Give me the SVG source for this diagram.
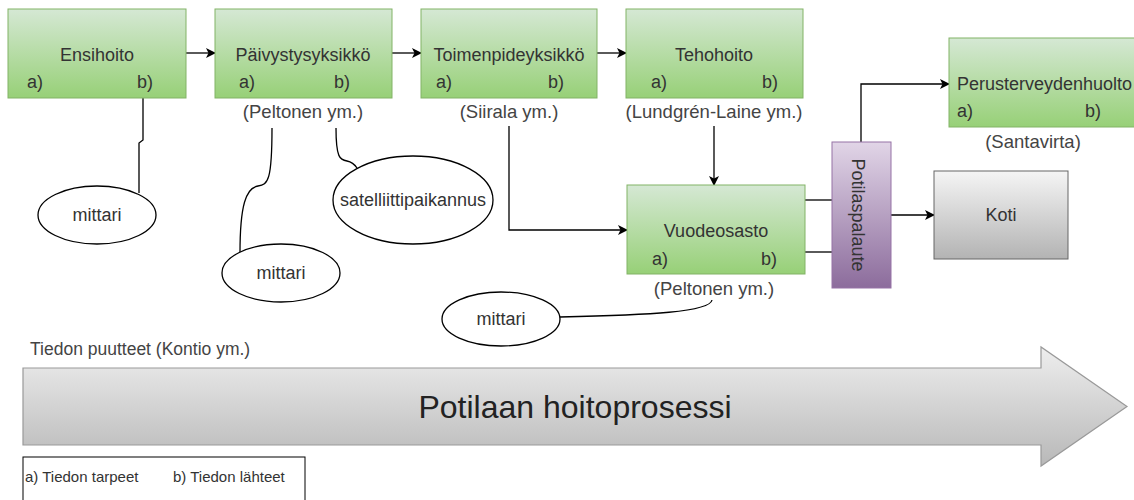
<svg xmlns="http://www.w3.org/2000/svg" width="1134" height="500" viewBox="0 0 1134 500">
<defs>
<linearGradient id="gGreen" x1="0" y1="0" x2="0" y2="1"><stop offset="0" stop-color="#d5e8d4"/><stop offset="1" stop-color="#97d077"/></linearGradient>
<linearGradient id="gPurple" x1="0" y1="0" x2="0" y2="1"><stop offset="0" stop-color="#e1d5e7"/><stop offset="1" stop-color="#8c6c9c"/></linearGradient>
<linearGradient id="gGray" x1="0" y1="0" x2="0" y2="1"><stop offset="0" stop-color="#f5f5f5"/><stop offset="1" stop-color="#b3b3b3"/></linearGradient>
<linearGradient id="gArrow" x1="0" y1="0" x2="0" y2="1"><stop offset="0" stop-color="#eeeeee"/><stop offset="1" stop-color="#b8b8b8"/></linearGradient>
<marker id="arr" markerWidth="10" markerHeight="10" refX="9" refY="5" orient="auto" markerUnits="userSpaceOnUse"><path d="M0,0 L10,5 L0,10 L2.5,5 Z" fill="#000"/></marker>
</defs>
<style>
.t{font-family:"Liberation Sans",Arial,sans-serif;font-size:18px;fill:#333}
.l{font-family:"Liberation Sans",Arial,sans-serif;font-size:18.5px;fill:#444}
.green{fill:url(#gGreen);stroke:#82b366;stroke-width:1}
.edge{fill:none;stroke:#000;stroke-width:1.3}
.ell{fill:#fff;stroke:#000;stroke-width:1.3}
</style>
<rect width="1134" height="500" fill="#fff"/>

<g id="connectors">
<path class="edge" d="M186,53 L215,53" marker-end="url(#arr)"/>
<path class="edge" d="M392,53 L421,53" marker-end="url(#arr)"/>
<path class="edge" d="M597,53 L626,53" marker-end="url(#arr)"/>
<path class="edge" d="M714,126 L714,185" marker-end="url(#arr)"/>
<path class="edge" d="M509,126 L509,230 L627,230" marker-end="url(#arr)"/>
<path class="edge" d="M805,200 L832,200"/>
<path class="edge" d="M805,252 L832,252"/>
<path class="edge" d="M861,142 L861,84 L949,84" marker-end="url(#arr)"/>
<path class="edge" d="M891,215 L934,215" marker-end="url(#arr)"/>
<path class="edge" d="M143,98 L143,140 L139,143 L139,193"/>
<path class="edge" d="M272,128 C272,180 268,185 258,186 C246,188 240,205 240,253"/>
<path class="edge" d="M336,128 C336,158 340,160 347,161 C352,162 355,165 357,168"/>
<path class="edge" d="M560,317 C650,315 710,312 712,300"/>
</g>

<g id="ensihoito">
<rect class="green" x="8" y="9" width="178" height="89"/>
<text class="t" x="97" y="61" text-anchor="middle">Ensihoito</text>
<text class="t" x="27" y="88">a)</text>
<text class="t" x="137" y="88">b)</text>
</g>
<g id="paivystys">
<rect class="green" x="215" y="9" width="177" height="89"/>
<text class="t" x="303" y="61" text-anchor="middle">Päivystysyksikkö</text>
<text class="t" x="239" y="88">a)</text>
<text class="t" x="334" y="88">b)</text>
<text class="l" x="303" y="118" text-anchor="middle">(Peltonen ym.)</text>
</g>
<g id="toimenpide">
<rect class="green" x="421" y="9" width="176" height="89"/>
<text class="t" x="509" y="61" text-anchor="middle">Toimenpideyksikkö</text>
<text class="t" x="436" y="88">a)</text>
<text class="t" x="548" y="88">b)</text>
<text class="l" x="509" y="118" text-anchor="middle">(Siirala ym.)</text>
</g>
<g id="tehohoito">
<rect class="green" x="626" y="9" width="177" height="89"/>
<text class="t" x="714" y="61" text-anchor="middle">Tehohoito</text>
<text class="t" x="651" y="88">a)</text>
<text class="t" x="762" y="88">b)</text>
<text class="l" x="714" y="118" text-anchor="middle">(Lundgrén-Laine ym.)</text>
</g>
<g id="vuodeosasto">
<rect class="green" x="627" y="185" width="178" height="89"/>
<text class="t" x="716" y="237" text-anchor="middle">Vuodeosasto</text>
<text class="t" x="652" y="265">a)</text>
<text class="t" x="761" y="265">b)</text>
<text class="l" x="714" y="295" text-anchor="middle">(Peltonen ym.)</text>
</g>
<g id="perusterveydenhuolto">
<rect class="green" x="949" y="38" width="190" height="89"/>
<text class="t" x="957" y="90">Perusterveydenhuolto</text>
<text class="t" x="957" y="117">a)</text>
<text class="t" x="1085" y="117">b)</text>
<text class="l" x="1033" y="148" text-anchor="middle">(Santavirta)</text>
</g>
<g id="potilaspalaute">
<rect x="832" y="142" width="59" height="146" fill="url(#gPurple)" stroke="#9673a6"/>
<text class="t" transform="translate(852,215) rotate(90)" text-anchor="middle">Potilaspalaute</text>
</g>
<g id="koti">
<rect x="934" y="171" width="134" height="88" fill="url(#gGray)" stroke="#666"/>
<text class="t" x="1001" y="221" text-anchor="middle">Koti</text>
</g>
<g id="mittari1">
<ellipse class="ell" cx="97" cy="215" rx="59" ry="29"/>
<text class="t" x="97" y="221" text-anchor="middle">mittari</text>
</g>
<g id="mittari2">
<ellipse class="ell" cx="281" cy="273" rx="59" ry="29"/>
<text class="t" x="281" y="279" text-anchor="middle">mittari</text>
</g>
<g id="satelliitti">
<ellipse class="ell" cx="413" cy="200" rx="80" ry="44"/>
<text class="t" x="413" y="206" text-anchor="middle">satelliittipaikannus</text>
</g>
<g id="mittari3">
<ellipse class="ell" cx="501" cy="319" rx="59" ry="27"/>
<text class="t" x="501" y="325" text-anchor="middle">mittari</text>
</g>

<g id="prosessi">
<text class="l" x="30" y="355" style="font-size:17.5px">Tiedon puutteet (Kontio ym.)</text>
<path d="M23,368 L1041,368 L1041,347 L1127,406.5 L1041,466 L1041,445 L23,445 Z" fill="url(#gArrow)" stroke="#999" stroke-width="1.2"/>
<text x="575" y="418" text-anchor="middle" style="font-family:'Liberation Sans',Arial,sans-serif;font-size:32px;fill:#222">Potilaan hoitoprosessi</text>
</g>
<g id="legend">
<rect x="23" y="457" width="282" height="60" fill="#fff" stroke="#000" stroke-width="1"/>
<text x="25" y="482" style="font-family:'Liberation Sans',Arial,sans-serif;font-size:15px;fill:#333">a) Tiedon tarpeet</text>
<text x="173" y="482" style="font-family:'Liberation Sans',Arial,sans-serif;font-size:15px;fill:#333">b) Tiedon lähteet</text>
</g>
</svg>
